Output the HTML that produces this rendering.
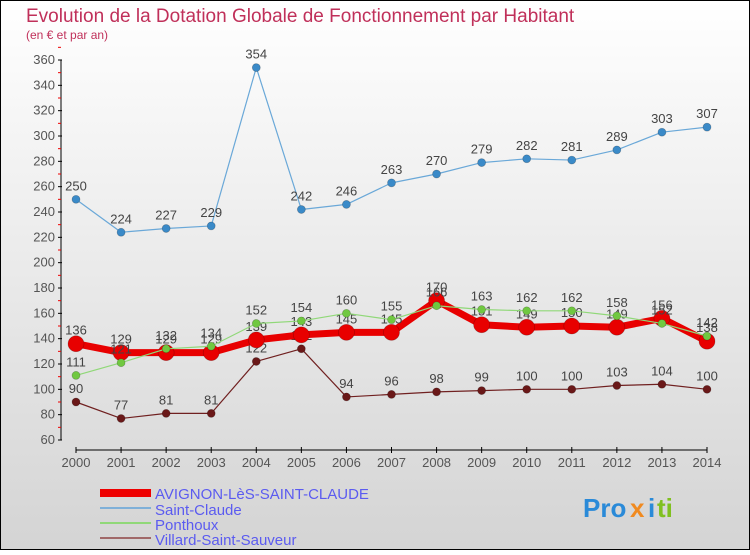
<!DOCTYPE html>
<html><head><meta charset="utf-8"><style>
body{margin:0}
#c{width:750px;height:550px;position:relative;font-family:"Liberation Sans",sans-serif}
</style></head><body>
<div id="c">
<svg id="s" width="750" height="550" xmlns="http://www.w3.org/2000/svg">
<defs><linearGradient id="bg" x1="0" y1="0" x2="0" y2="1"><stop offset="0" stop-color="#ffffff"/><stop offset="1" stop-color="#d4d4d4"/></linearGradient></defs>
<rect x="0.5" y="0.5" width="749" height="549" fill="url(#bg)" stroke="#000"/>
<text x="26" y="22" font-size="19" fill="#c0305a">Evolution de la Dotation Globale de Fonctionnement par Habitant</text>
<text x="26" y="39" font-size="12" fill="#c0305a">(en € et par an)</text>
<g id="axes"></g><g id="series"></g>
<g>
<rect x="100" y="489" width="51" height="8" fill="#e00"/>
<text x="155" y="499" font-size="15" fill="#5b5bf0">AVIGNON-LèS-SAINT-CLAUDE</text>
<rect x="100" y="507" width="51" height="2" fill="#7fb0d8"/>
<text x="155" y="515" font-size="15" fill="#5b5bf0">Saint-Claude</text>
<rect x="100" y="522" width="51" height="2" fill="#90d878"/>
<text x="155" y="530" font-size="15" fill="#5b5bf0">Ponthoux</text>
<rect x="100" y="537" width="51" height="2" fill="#a06868"/>
<text x="155" y="545" font-size="15" fill="#5b5bf0">Villard-Saint-Sauveur</text>
</g>
<g font-size="26" font-weight="bold">
<text x="583" y="517" fill="#2a8ad8">Pro</text><text x="630" y="517" fill="#f08a20">x</text><text x="648" y="517" fill="#2a8ad8">i</text><text x="657" y="517" fill="#80c020">ti</text>
</g>
</svg>
</div>
<script>
const years=[2000,2001,2002,2003,2004,2005,2006,2007,2008,2009,2010,2011,2012,2013,2014];
const avignon=[136,129,129,129,139,143,145,145,170,151,149,150,149,156,138];
const saintClaude=[250,224,227,229,354,242,246,263,270,279,282,281,289,303,307];
const ponthoux=[111,121,132,134,152,154,160,155,166,163,162,162,158,152,142];
const villard=[90,77,81,81,122,132,94,96,98,99,100,100,103,104,100];
const yTicks=[60,80,100,120,140,160,180,200,220,240,260,280,300,320,340,360];
const NS="http://www.w3.org/2000/svg";
function X(i){return 76+i*(707-76)/(years.length-1);}
function Y(v){return 60+(360-v)*380/300;}
function mk(tag,attrs,parent){const e=document.createElementNS(NS,tag);for(const k in attrs)e.setAttribute(k,attrs[k]);parent.appendChild(e);return e;}
const ax=document.getElementById('axes'),sg=document.getElementById('series');
let yl=mk('line',{x1:61,y1:60,x2:61,y2:440,stroke:'#000'},ax);


yTicks.forEach(t=>{
  mk('line',{x1:58,y1:Y(t),x2:62,y2:Y(t),stroke:'#000'},ax);
  mk('line',{x1:58,y1:Y(t+10),x2:61,y2:Y(t+10),stroke:'#e00'},ax);
  const tx=mk('text',{x:55,y:Y(t)+4,'font-size':13,fill:'#555','text-anchor':'end'},ax);tx.textContent=t;
  
  
});
let xl=mk('line',{x1:76,y1:450,x2:707,y2:450,stroke:'#000'},ax);


years.forEach((yr,i)=>{
  mk('line',{x1:X(i),y1:447,x2:X(i),y2:453,stroke:'#000'},ax);
  const tx=mk('text',{x:X(i),y:467,'font-size':13,fill:'#555','text-anchor':'middle'},ax);tx.textContent=yr;
  
  
});
function series(vals,color,lw,r,dot,name){
  const g=mk('g',{},sg);
  
  
  mk('polyline',{points:vals.map((v,i)=>X(i)+','+Y(v)).join(' '),fill:'none',stroke:color,'stroke-width':lw,'stroke-linejoin':'round'},g);
  vals.forEach((v,i)=>{
    const c=mk('circle',{cx:X(i),cy:Y(v),r:r,fill:dot,stroke:'rgba(0,0,0,0.25)','stroke-width':0.7},g);
    
    
    const t=mk('text',{x:X(i),y:Y(v)-9,'font-size':13,fill:'#444','text-anchor':'middle'},g);t.textContent=v;
  });
}
series(villard,'#702020',1.2,4,'#6a1818','series-villard');
series(saintClaude,'#6aa8d8',1.2,4,'#3a8ac8','series-saint-claude');
series(avignon,'#e80000',7,8,'#e80000','series-avignon');
series(ponthoux,'#90d878',1.2,4,'#70c840','series-ponthoux');
</script>
</body></html>
